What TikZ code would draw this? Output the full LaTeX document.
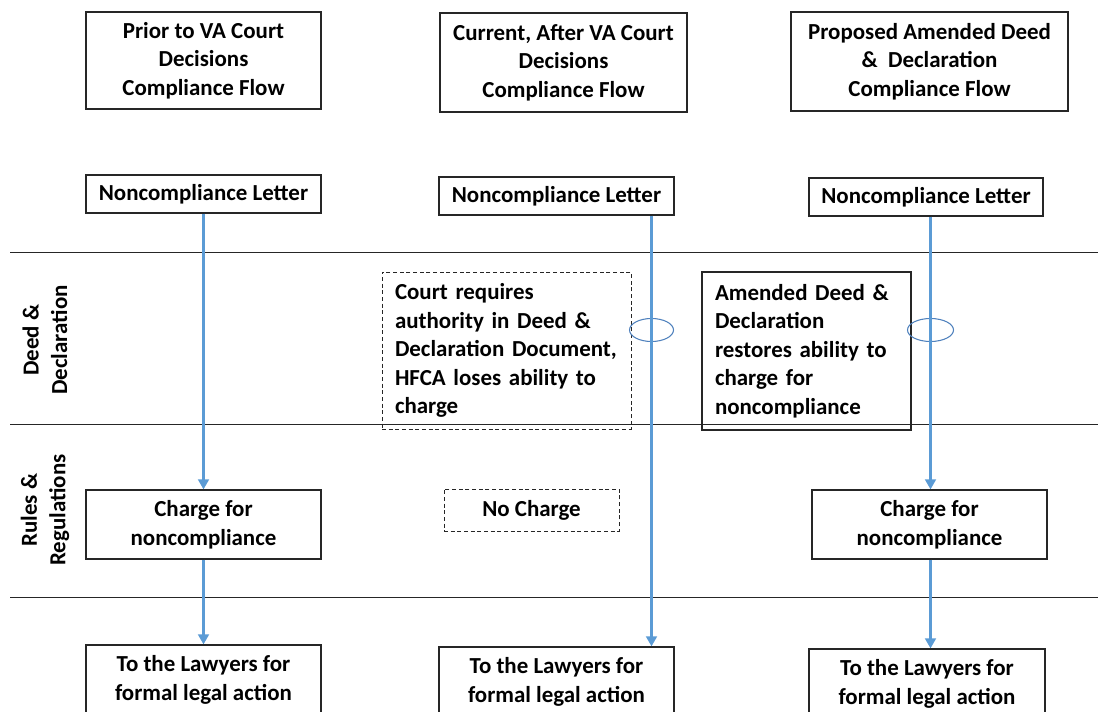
\documentclass[tikz,border=0pt]{standalone}
\usepackage{fontspec}
\setmainfont{Carlito}
\usetikzlibrary{arrows.meta,shapes.geometric}
\definecolor{flow}{HTML}{5B9BD5}
\definecolor{ring}{HTML}{4F81BD}
\definecolor{edge}{HTML}{262626}
\begin{document}
\begin{tikzpicture}[x=0.75pt,y=-0.75pt,
  sz/.style 2 args={minimum width=#1*0.75pt, minimum height=#2*0.75pt},
  txt/.style={font=\fontsize{17.2}{21.4}\selectfont\bfseries},
  box/.style={draw=edge, line width=0.9pt, align=center, inner sep=0pt, txt},
  dbox/.style={box, dash pattern=on 3pt off 2pt, line width=0.7pt},
  lbox/.style 2 args={align=left, inner xsep=13*0.75pt, text width=(#1-26)*0.75pt, sz={#1}{#2}},
  flowline/.style={draw=flow, line width=2.5pt, -{Triangle[width=8pt,length=7.5pt]}},
  lane/.style={draw=edge, line width=0.7pt},
  ringnode/.style={draw=ring, line width=0.8pt, ellipse, inner sep=0pt},
  lanelabel/.style={txt, align=center, rotate=90}
]
\useasboundingbox (0,0) rectangle (1098,712);
\clip (0,0) rectangle (1098,712);

% lane separators
\coordinate (l1a) at (10,252); \coordinate (l1b) at (1098,252);
\coordinate (l2a) at (10,424); \coordinate (l2b) at (1098,424);
\coordinate (l3a) at (10,597); \coordinate (l3b) at (1098,597);
\draw[lane] (l1a) -- (l1b);
\draw[lane] (l2a) -- (l2b);
\draw[lane] (l3a) -- (l3b);

% lane labels
\node[lanelabel] (lbl1) at (45,340) {Deed \&\\Declaration};
\node[lanelabel] (lbl2) at (45,510) {Rules \&\\Regulations};

% headers
\node[box, sz={235}{97}] (h1) at (203.5,60.5) {Prior to VA Court\\Decisions\\Compliance Flow};
\node[box, sz={247}{99}] (h2) at (563.5,62.5) {Current, After VA Court\\Decisions\\Compliance Flow};
\node[box, sz={277}{99}] (h3) at (929.5,61.5) {Proposed Amended Deed\\\&\ \ Declaration\\Compliance Flow};

% noncompliance letters
\node[box, sz={235}{38}] (n1) at (203.5,194) {Noncompliance Letter};
\node[box, sz={235}{38}] (n2) at (556.5,196) {Noncompliance Letter};
\node[box, sz={234}{38}] (n3) at (926,197) {Noncompliance Letter};

% deed & declaration lane
\node[dbox, lbox={249}{157}] (d2) at (506.5,350.5) {Court requires\\authority in Deed \&\\Declaration Document,\\HFCA loses ability to\\charge};
\node[box, lbox={209}{158}] (d3) at (806.5,351) {Amended Deed \&\\Declaration\\restores ability to\\charge for\\noncompliance};

% rules lane
\node[box, sz={235}{69}] (c1) at (203.5,524.5) {Charge for\\noncompliance};
\node[dbox, sz={175}{42}] (c2) at (531.5,510) {No Charge};
\node[box, sz={235}{69}] (c3) at (929.5,524.5) {Charge for\\noncompliance};

% lawyers
\node[box, sz={235}{70}] (w1) at (203.5,680) {To the Lawyers for\\formal legal action};
\node[box, sz={235}{70}] (w2) at (556.5,682) {To the Lawyers for\\formal legal action};
\node[box, sz={236}{70}] (w3) at (927,684) {To the Lawyers for\\formal legal action};

% crossing rings
\node[ringnode, sz={44}{23}] (r1) at (651.5,330) {};
\node[ringnode, sz={46}{23}] (r2) at (930.5,330) {};

% flow start/end points on the off-centre columns
\path (n2.south -| r1) coordinate (s2) (w2.north -| r1) coordinate (e2);
\path (n3.south -| r2) coordinate (s3) (c3.north -| r2) coordinate (e3);
\path (c3.south -| r2) coordinate (s4) (w3.north -| r2) coordinate (e4);

% flows
\draw[flowline] (n1.south) -- (c1.north);
\draw[flowline] (c1.south) -- (w1.north);
\draw[flowline] (s2) -- (e2);
\draw[flowline] (s3) -- (e3);
\draw[flowline] (s4) -- (e4);
\end{tikzpicture}
\end{document}
